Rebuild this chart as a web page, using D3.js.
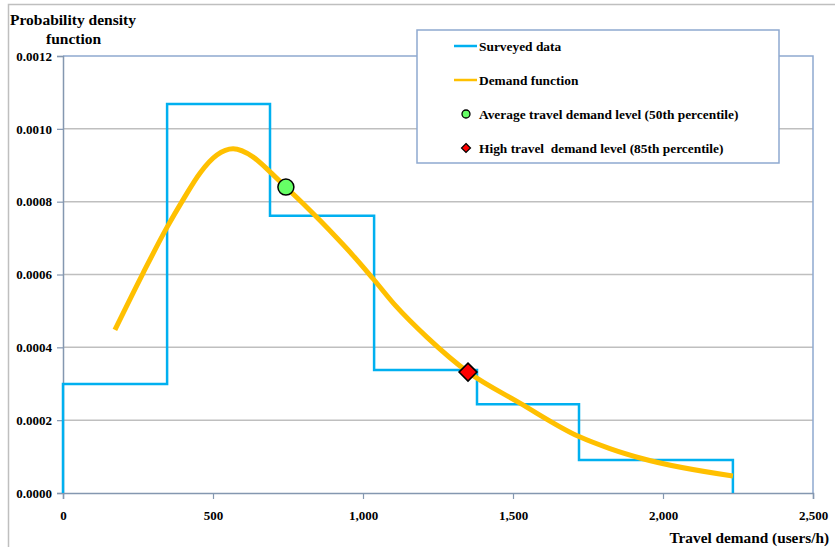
<!DOCTYPE html>
<html><head><meta charset="utf-8">
<script src="https://cdn.jsdelivr.net/npm/d3@7"></script>
<style>body{margin:0;background:#fff}svg{display:block}text{font-family:"Liberation Serif","Times New Roman",serif;font-weight:bold;fill:#000}</style>
</head><body>
<script>
// Data
const binEdges = [0, 347, 690, 1037, 1380, 1720, 2233];
const binDensity = [0.000299, 0.001068, 0.000761, 0.000338, 0.000244, 0.0000906];
const curveX = [173, 267, 347, 400, 457, 513, 567, 633, 690, 743, 800, 857, 913, 967, 1033, 1110, 1213, 1350, 1523, 1720, 1823, 1933, 2233];
const curveY = [0.000448, 0.000604, 0.00073, 0.000805, 0.000879, 0.000928, 0.000945, 0.000923, 0.000882, 0.00084, 0.000795, 0.000748, 0.0007, 0.000652, 0.000589, 0.000513, 0.000428, 0.000332, 0.000247, 0.000155, 0.000122, 0.000094, 0.0000467];
const avgPoint = [743, 0.00084];
const highPoint = [1350, 0.000332];
const xTicks = [0, 500, 1000, 1500, 2000, 2500];
const yTicks = [0, 0.0002, 0.0004, 0.0006, 0.0008, 0.0010, 0.0012];
const legendLabels = ["Surveyed data", "Demand function", "Average travel demand level (50th percentile)", "High travel  demand level (85th percentile)"];

const W = 835, H = 547;
const svg = d3.select("body").append("svg").attr("width", W).attr("height", H);
const L = 63, R = 813, T = 56, B = 493;
const x = d3.scaleLinear().domain([0, 2500]).range([L, R]);
const y = d3.scaleLinear().domain([0, 0.0012]).range([B, T]);

// outer chart border
svg.append("rect").attr("x", 8.5).attr("y", 4.5).attr("width", 900).attr("height", 700)
  .attr("fill", "none").attr("stroke", "#BFBFBF").attr("stroke-width", 1.5);

// gridlines
svg.append("g").selectAll("line").data(yTicks.filter(d => d > 0 && d < 0.0012)).join("line")
  .attr("x1", L).attr("x2", R).attr("y1", d => y(d)).attr("y2", d => y(d))
  .attr("stroke", "#BFBFBF").attr("stroke-width", 1.5);

// plot border top & right
svg.append("path").attr("d", `M${L},${T}H${R}V${B}`).attr("fill", "none")
  .attr("stroke", "#8EA9D0").attr("stroke-width", 1.5);

// axes
const yAxis = d3.axisLeft(y).tickValues(yTicks).tickFormat(d3.format(".4f")).tickSize(6).tickPadding(5);
const gy = svg.append("g").attr("transform", `translate(${L},0)`).call(yAxis);
const xAxis = d3.axisBottom(x).tickValues(xTicks).tickFormat(d3.format(",")).tickSize(6).tickPadding(12);
const gx = svg.append("g").attr("transform", `translate(0,${B})`).call(xAxis);
[gy, gx].forEach(g => {
  g.select(".domain").attr("stroke", "#8497B0").attr("stroke-width", 1.5);
  g.selectAll(".tick line").attr("stroke", "#8497B0").attr("stroke-width", 1.2);
  g.selectAll("text").attr("font-size", 13).attr("font-family", "Liberation Serif").attr("font-weight", "bold").attr("fill", "#000");
});

// step line (histogram)
const stepPts = [[binEdges[0], 0]];
binDensity.forEach((v, i) => { stepPts.push([binEdges[i], v]); stepPts.push([binEdges[i + 1], v]); });
stepPts.push([binEdges[binEdges.length - 1], 0]);
svg.append("path").datum(stepPts)
  .attr("d", d3.line().x(d => x(d[0])).y(d => y(d[1])))
  .attr("fill", "none").attr("stroke", "#00B0F0").attr("stroke-width", 2.5);

// demand curve
const cPts = curveX.map((v, i) => [v, curveY[i]]);
svg.append("path").datum(cPts)
  .attr("d", d3.line().x(d => x(d[0])).y(d => y(d[1])).curve(d3.curveMonotoneX))
  .attr("fill", "none").attr("stroke", "#FFC000").attr("stroke-width", 5);

// markers
svg.append("circle").attr("cx", x(avgPoint[0])).attr("cy", y(avgPoint[1])).attr("r", 8)
  .attr("fill", "#66FF66").attr("stroke", "#000").attr("stroke-width", 1.5);
const ds = 9;
svg.append("path").attr("transform", `translate(${x(highPoint[0])},${y(highPoint[1])})`)
  .attr("d", `M0,${-ds}L${ds},0L0,${ds}L${-ds},0Z`)
  .attr("fill", "#FF0000").attr("stroke", "#000").attr("stroke-width", 1.5);

// titles
svg.append("text").attr("x", 10).attr("y", 25).attr("font-size", 15.5).text("Probability density");
svg.append("text").attr("x", 46).attr("y", 44).attr("font-size", 15.5).text("function");
svg.append("text").attr("x", 829).attr("y", 543).attr("text-anchor", "end").attr("font-size", 15.3).text("Travel demand (users/h)");

// legend
const lg = svg.append("g");
lg.append("rect").attr("x", 417).attr("y", 30).attr("width", 362).attr("height", 133)
  .attr("fill", "#fff").attr("stroke", "#8EA9D0").attr("stroke-width", 1.5);
const ly = [46, 80, 114, 148];
lg.append("line").attr("x1", 454).attr("x2", 477).attr("y1", ly[0]).attr("y2", ly[0]).attr("stroke", "#00B0F0").attr("stroke-width", 2.5);
lg.append("line").attr("x1", 454).attr("x2", 477).attr("y1", ly[1]).attr("y2", ly[1]).attr("stroke", "#FFC000").attr("stroke-width", 2.5);
lg.append("circle").attr("cx", 466).attr("cy", ly[2]).attr("r", 4).attr("fill", "#66FF66").attr("stroke", "#000").attr("stroke-width", 1.3);
lg.append("path").attr("transform", `translate(466,${ly[3]})`).attr("d", "M0,-4.5L4.5,0L0,4.5L-4.5,0Z")
  .attr("fill", "#FF0000").attr("stroke", "#000").attr("stroke-width", 1.2);
legendLabels.forEach((t, i) => {
  lg.append("text").attr("x", 479).attr("y", ly[i] + 4.5).attr("font-size", 13.4).style("white-space", "pre").text(t);
});
</script>
</body></html>
